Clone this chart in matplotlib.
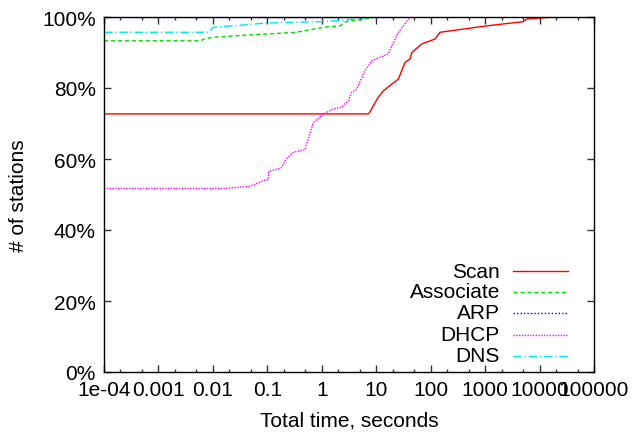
import matplotlib
matplotlib.use("Agg")
import matplotlib.pyplot as plt
from matplotlib.lines import Line2D
from matplotlib.ticker import FixedLocator, FixedFormatter, LogLocator, NullFormatter

plt.rcParams['font.family'] = ['Liberation Sans', 'DejaVu Sans']

# ---- data ----
scan_t = [1e-4, 7.2, 7.7, 8.85, 10.9, 13.5, 17.9, 25.5, 29.4, 33.8, 41.8, 44.9,
          68.5, 120, 149, 1070, 5040, 5810, 17900]
scan_p = [72.7, 72.7, 73.3, 75.0, 77.4, 79.2, 80.7, 82.5, 84.9, 87.2, 88.2, 90.0,
          92.4, 93.8, 95.7, 97.5, 98.7, 99.4, 100]

assoc_t = [1e-4, 0.0058, 0.0077, 0.0102, 0.042, 0.347, 0.40, 1.07, 2.16, 2.49,
           2.87, 5.04, 10, 60]
assoc_p = [93.3, 93.3, 94.0, 94.3, 94.9, 95.7, 95.9, 97.1, 97.5, 98.2,
           98.8, 99.2, 100, 100]

arp_t = [1e-4, 20]
arp_p = [100, 100]

dhcp_t = [1e-4, 0.0155, 0.048, 0.084, 0.104, 0.106, 0.184, 0.211, 0.30, 0.49, 0.70,
          1.07, 1.63, 2.32, 2.6, 3.07, 3.55, 4.38, 6.2, 8.26, 16.7, 19.3, 25.5,
          31.5, 38.9, 44.9]
dhcp_p = [51.7, 51.7, 52.3, 53.9, 54.2, 56.4, 57.6, 59.5, 61.9, 62.6, 70.3,
          72.7, 74.1, 74.6, 75.5, 76.4, 78.8, 79.7, 84.9, 87.7, 89.6, 91.9, 95.7,
          97.5, 99.4, 100]

dns_t = [1e-4, 0.0082, 0.0102, 0.0975, 0.93, 1.6, 2.87, 5.04, 8, 12]
dns_p = [95.7, 95.7, 97.1, 98.3, 98.7, 98.9, 99.2, 99.6, 100, 100]

x_ticks = [1e-4, 1e-3, 1e-2, 1e-1, 1, 10, 100, 1000, 10000, 100000]
x_labels = ["1e-04", "0.001", "0.01", "0.1", "1", "10", "100", "1000", "10000", "100000"]
y_ticks = [0, 20, 40, 60, 80, 100]
y_labels = ["0%", "20%", "40%", "60%", "80%", "100%"]

series = [
    ("Scan", scan_t, scan_p, dict(color="#ff0000", linestyle="-")),
    ("Associate", assoc_t, assoc_p, dict(color="#00dd00", linestyle=(0, (3, 2)))),
    ("ARP", arp_t, arp_p, dict(color="#0000ff", linestyle=(0, (1, 1.5)))),
    ("DHCP", dhcp_t, dhcp_p, dict(color="#ff00ff", linestyle=(0, (1, 1)))),
    ("DNS", dns_t, dns_p, dict(color="#00e5ee", linestyle=(0, (6, 2, 1, 2)))),
]

FS = 15

fig = plt.figure(figsize=(6.34, 4.35), dpi=100)
ax = fig.add_axes([104/634, 62/435, 490/634, 355/435])

for name, t, p, st in series:
    ax.plot(t, p, lw=1.0, **st, zorder=2)

ax.set_xscale("log")
ax.set_xlim(1e-4, 1e5)
ax.set_ylim(0, 100)

ax.xaxis.set_major_locator(FixedLocator(x_ticks))
ax.xaxis.set_major_formatter(FixedFormatter(x_labels))
ax.xaxis.set_minor_locator(LogLocator(base=10, subs=[2, 5], numticks=20))
ax.xaxis.set_minor_formatter(NullFormatter())
ax.yaxis.set_major_locator(FixedLocator(y_ticks))
ax.yaxis.set_major_formatter(FixedFormatter(y_labels))

ax.tick_params(which="both", direction="in", top=True, right=True, labelsize=FS,
               color="#333333", width=1.0)
ax.tick_params(which="major", length=5, pad=6)
ax.tick_params(which="minor", length=2.5)
for s in ax.spines.values():
    s.set_linewidth(1.0)
    s.set_color("black")
    s.set_zorder(3)

ax.set_xlabel("Total time, seconds", fontsize=FS, labelpad=8)
ax.set_ylabel("# of stations", fontsize=FS, labelpad=10)

# gnuplot-style key: right-aligned labels with samples to the right
key_rows = [(373 - y) / 355 for y in (272, 293, 314, 336, 357)]
for (name, t, p, st), yk in zip(series, key_rows):
    ax.text((500 - 104) / 490, yk, name, transform=ax.transAxes, ha="right",
            va="center", fontsize=FS)
    ax.add_line(Line2D([(513 - 104) / 490, (568 - 104) / 490], [yk, yk],
                       transform=ax.transAxes, lw=1.0, **st))

fig.savefig("out.png", dpi=100)
